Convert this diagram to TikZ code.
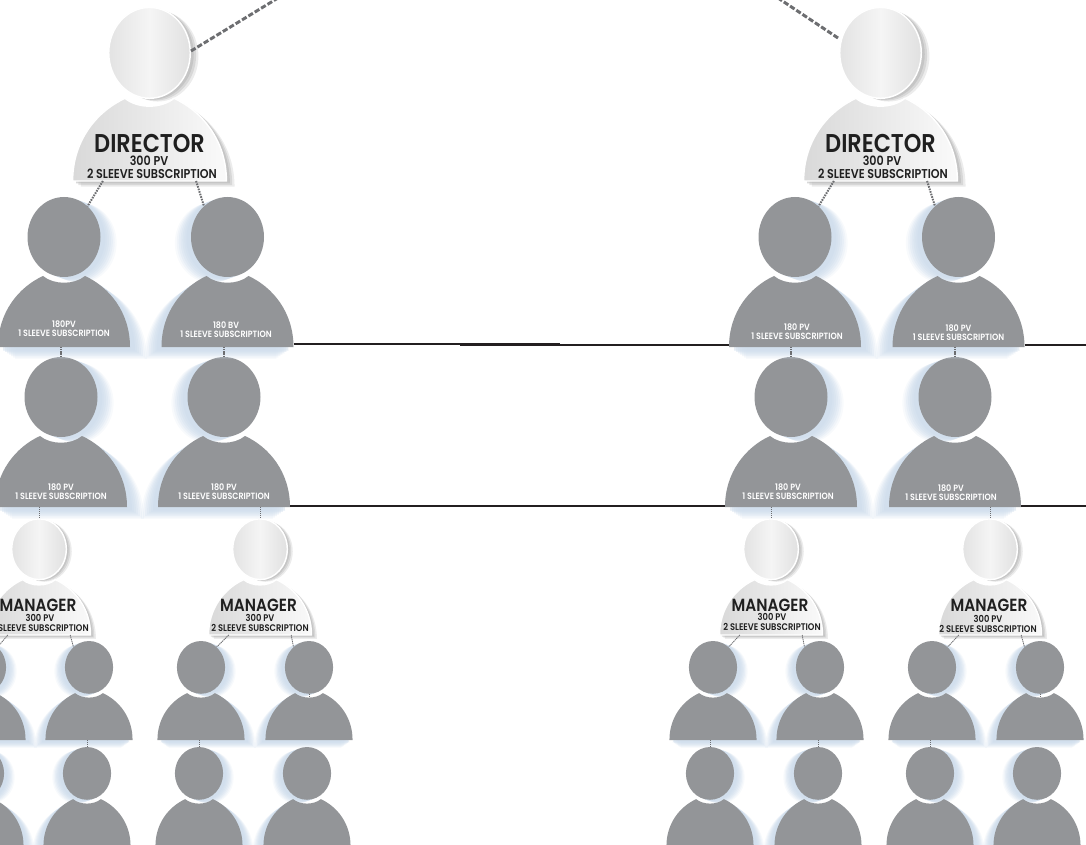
\documentclass[tikz,border=0pt]{standalone}
\usepackage{fontspec}
\usepackage{tikz}
\usetikzlibrary{calc,positioning}
\newfontfamily\badgefont{Poppins}[UprightFont=* SemiBold]
\definecolor{mangray}{HTML}{939598}
\definecolor{manglow}{HTML}{CFDDEC}
\definecolor{linkgray}{HTML}{6D6E71}
\definecolor{ruleblack}{HTML}{231F20}
\newcommand{\bodypath}{(-66,0) .. controls (-66,-35) and (-45,-60) .. (-21,-71) .. controls (-10,-62) and (10,-62) .. (21,-71) .. controls (45,-60) and (66,-35) .. (66,0) -- cycle}
\newcommand{\linkmarks}{
    \coordinate (-bl) at (-40,0);
    \coordinate (-br) at (40,0);
    \coordinate (-bc) at (0,0);
    \coordinate (-e) at (66,-2);
    \coordinate (-w) at (-66,-2);
    \coordinate (-ht) at (0,-150);
    \coordinate (-hb) at (0,-70);
    \coordinate (-hl) at ($(0,-110)+(130:36.5 and -40)$);
    \coordinate (-hr) at ($(0,-110)+(50:36.5 and -40)$);
    \coordinate (-nk) at (0,-64);
}
\tikzset{
    % gray figure, #1 gives the side of its glow
    grayman/.pic={
        \foreach \k/\op in {17/.15,15/.2,13/.25,11/.3,9/.35,7/.4,5/.5}{
            \fill[manglow,opacity=\op,shift={(#1*\k,\k*.7)}] \bodypath;
            \fill[manglow,opacity=\op,shift={(#1*\k*.95,\k*.35)}] (0,-110) circle [x radius=36.5,y radius=40];
        }
        \fill[mangray] \bodypath;
        \fill[mangray] (0,-110) circle [x radius=36.5,y radius=40];
        \linkmarks
    },
    % light figure of the two ranks
    paleman/.pic={
        \foreach \k/\op in {7/.25,5/.35,3/.5}{
            \fill[black!30,opacity=\op,shift={(\k,\k*.7)}] \bodypath;
            \fill[black!30,opacity=\op,shift={(\k,\k*.4)}] (0,-110) circle [x radius=35,y radius=39];
        }
        \draw[white,line width=1.1pt,left color=black!15,right color=black!2] \bodypath;
        \draw[white,line width=1.1pt,left color=black!11,right color=black!12,middle color=black!4] (0,-110) circle [x radius=35,y radius=39];
        \linkmarks
    },
    rankname/.style={font=\badgefont\fontsize{#1}{#1}\selectfont,text=black!88,inner sep=0pt,transform shape,xscale=.87},
    graytext/.style={font=\badgefont\fontsize{6.8}{6.9}\selectfont,text=white,inner sep=0pt,align=center,transform shape,xscale=.88},
    biglink/.style={linkgray,line width=1.5pt,dash pattern=on 1.2pt off .8pt},
    midlink/.style={linkgray,line width=1pt,dash pattern=on 1pt off .6pt},
    thinlink/.style={linkgray,line width=.6pt,dash pattern=on 1pt off .5pt},
    toplink/.style={linkgray,line width=2.2pt,dash pattern=on 4pt off 1.6pt},
    rowrule/.style={ruleblack,line width=1.4pt}
}
\begin{document}
\begin{tikzpicture}[x=.75pt,y=-.75pt]
    \useasboundingbox (0,0) rectangle (1086,845);
    \clip (0,0) rectangle (1086,845);
    %
    \coordinate (topA) at (278,-2);
    \coordinate (topB) at (778,-2);
    \coordinate (ruleAend) at (1086,344.6);
    \coordinate (ruleBend) at (1086,506);
    \coordinate (ruleAl) at (560,344.4);
    \coordinate (ruleAr) at (460,345);
    \coordinate (ruleBl) at (560,505.8);
    \coordinate (ruleBr) at (460,506.4);
    % small figures at the bottom
    \foreach \nm/\px/\py/\dr in {sa/-18/740/1,sb/89/740/-1,sc/201/740/1,sd/309/740/-1,se/713/740/1,sf/820/740/-1,sg/932/740/1,sh/1040/740/-1,
        ta/-20/846/1,tb/87/846/-1,tc/199/846/1,td/307/846/-1,te/710/846/1,tf/818/846/-1,tg/930/846/1,th/1037/846/-1}
        \pic[scale=.66] (\nm) at (\px,\py) {grayman=\dr};
    % managers
    \pic[scale=.78] (mgrA) at (39,635) {paleman};
    \pic[scale=.78] (mgrB) at (260,635) {paleman};
    \pic[scale=.78] (mgrC) at (771,635) {paleman};
    \pic[scale=.78] (mgrD) at (990,635) {paleman};
    % second gray row
    \pic (lowA) at (61,507) {grayman=1};
    \pic (lowB) at (224,507) {grayman=-1};
    \pic (lowC) at (791,507) {grayman=1};
    \pic (lowD) at (955,507) {grayman=-1};
    % first gray row
    \pic (upA) at (64,347) {grayman=1};
    \pic (upB) at (227.5,347) {grayman=-1};
    \pic (upC) at (795,347) {grayman=1};
    \pic (upD) at (958.5,347) {grayman=-1};
    % directors
    \pic[scale=1.165] (dirA) at (149.5,181) {paleman};
    \pic[scale=1.165] (dirB) at (880.5,181) {paleman};
    %
    \draw[rowrule] (upB-e |- ruleAl) -- (ruleAl);
    \draw[rowrule] (ruleAr) -- (upC-w |- ruleAr);
    \draw[rowrule] (lowB-e |- ruleBl) -- (ruleBl);
    \draw[rowrule] (ruleBr) -- (lowC-w |- ruleBr);
    \draw[rowrule] (upD-e |- ruleAend) -- (ruleAend);
    \draw[rowrule] (lowD-e |- ruleBend) -- (ruleBend);
    %
    \draw[toplink] (191,51) -- (topA);
    \draw[toplink] (838,38) -- (topB);
    \draw[biglink] (dirA-bl) -- (upA-hr);
    \draw[biglink] (dirA-br) -- (upB-hl);
    \draw[biglink] (dirB-bl) -- (upC-hr);
    \draw[biglink] (dirB-br) -- (upD-hl);
    \draw[midlink] (lowA-ht |- upA-bc) -- (lowA-ht);
    \draw[midlink] (lowB-ht |- upB-bc) -- (lowB-ht);
    \draw[midlink] (lowC-ht |- upC-bc) -- (lowC-ht);
    \draw[midlink] (lowD-ht |- upD-bc) -- (lowD-ht);
    \draw[thinlink] (mgrA-ht |- lowA-bc) -- (mgrA-ht);
    \draw[thinlink] (mgrB-ht |- lowB-bc) -- (mgrB-ht);
    \draw[thinlink] (mgrC-ht |- lowC-bc) -- (mgrC-ht);
    \draw[thinlink] (mgrD-ht |- lowD-bc) -- (mgrD-ht);
    \draw[thinlink] (mgrA-bl) -- (sa-hr);
    \draw[thinlink] (mgrA-br) -- (sb-hl);
    \draw[thinlink] (mgrB-bl) -- (sc-hr);
    \draw[thinlink] (mgrB-br) -- (sd-hl);
    \draw[thinlink] (mgrC-bl) -- (se-hr);
    \draw[thinlink] (mgrC-br) -- (sf-hl);
    \draw[thinlink] (mgrD-bl) -- (sg-hr);
    \draw[thinlink] (mgrD-br) -- (sh-hl);
    \draw[thinlink] (tb-ht |- sb-bc) -- (tb-ht);
    \draw[thinlink] (tc-ht |- sc-bc) -- (tc-ht);
    \draw[thinlink] (te-ht |- se-bc) -- (te-ht);
    \draw[thinlink] (tf-ht |- sf-bc) -- (tf-ht);
    \draw[thinlink] (tg-ht |- sg-bc) -- (tg-ht);
    \draw[thinlink] (sd-hb) -- (sd-nk);
    \draw[thinlink] (sh-hb) -- (sh-nk);
    % labels
    \node[rankname=19.3] (dirAname) at (149.5,143) {DIRECTOR};
    \node[rankname=9.6] (dirApv) at (149,161) {300 PV};
    \node[rankname=9.6] (dirAsub) at (152,174) {2 SLEEVE SUBSCRIPTION};
    \node[rankname=19.3] (dirBname) at (880.5,143) {DIRECTOR};
    \node[rankname=9.6] (dirBpv) at (882,161) {300 PV};
    \node[rankname=9.6] (dirBsub) at (883,174) {2 SLEEVE SUBSCRIPTION};
    \node[rankname=13.2] (mgrAname) at (38,605) {MANAGER};
    \node[rankname=7.2] (mgrApv) at (40,618) {300 PV};
    \node[rankname=7.2] (mgrAsub) at (40,628) {2 SLEEVE SUBSCRIPTION};
    \node[rankname=13.2] (mgrBname) at (258.5,605) {MANAGER};
    \node[rankname=7.2] (mgrBpv) at (260,618) {300 PV};
    \node[rankname=7.2] (mgrBsub) at (260,628) {2 SLEEVE SUBSCRIPTION};
    \node[rankname=13.2] (mgrCname) at (770,605) {MANAGER};
    \node[rankname=7.2] (mgrCpv) at (772,617) {300 PV};
    \node[rankname=7.2] (mgrCsub) at (772,627) {2 SLEEVE SUBSCRIPTION};
    \node[rankname=13.2] (mgrDname) at (989,605) {MANAGER};
    \node[rankname=7.2] (mgrDpv) at (988,619) {300 PV};
    \node[rankname=7.2] (mgrDsub) at (988,629) {2 SLEEVE SUBSCRIPTION};
    \node[graytext] (upAtext) at (64,329) {180PV\\1 SLEEVE SUBSCRIPTION};
    \node[graytext] (upBtext) at (226,329.5) {180 BV\\1 SLEEVE SUBSCRIPTION};
    \node[graytext] (upCtext) at (797,332) {180 PV\\1 SLEEVE SUBSCRIPTION};
    \node[graytext] (upDtext) at (958.5,333) {180 PV\\1 SLEEVE SUBSCRIPTION};
    \node[graytext] (lowAtext) at (61,491.5) {180 PV\\1 SLEEVE SUBSCRIPTION};
    \node[graytext] (lowBtext) at (224,492) {180 PV\\1 SLEEVE SUBSCRIPTION};
    \node[graytext] (lowCtext) at (788,492) {180 PV\\1 SLEEVE SUBSCRIPTION};
    \node[graytext] (lowDtext) at (951,492.5) {180 PV\\1 SLEEVE SUBSCRIPTION};
\end{tikzpicture}
\end{document}
